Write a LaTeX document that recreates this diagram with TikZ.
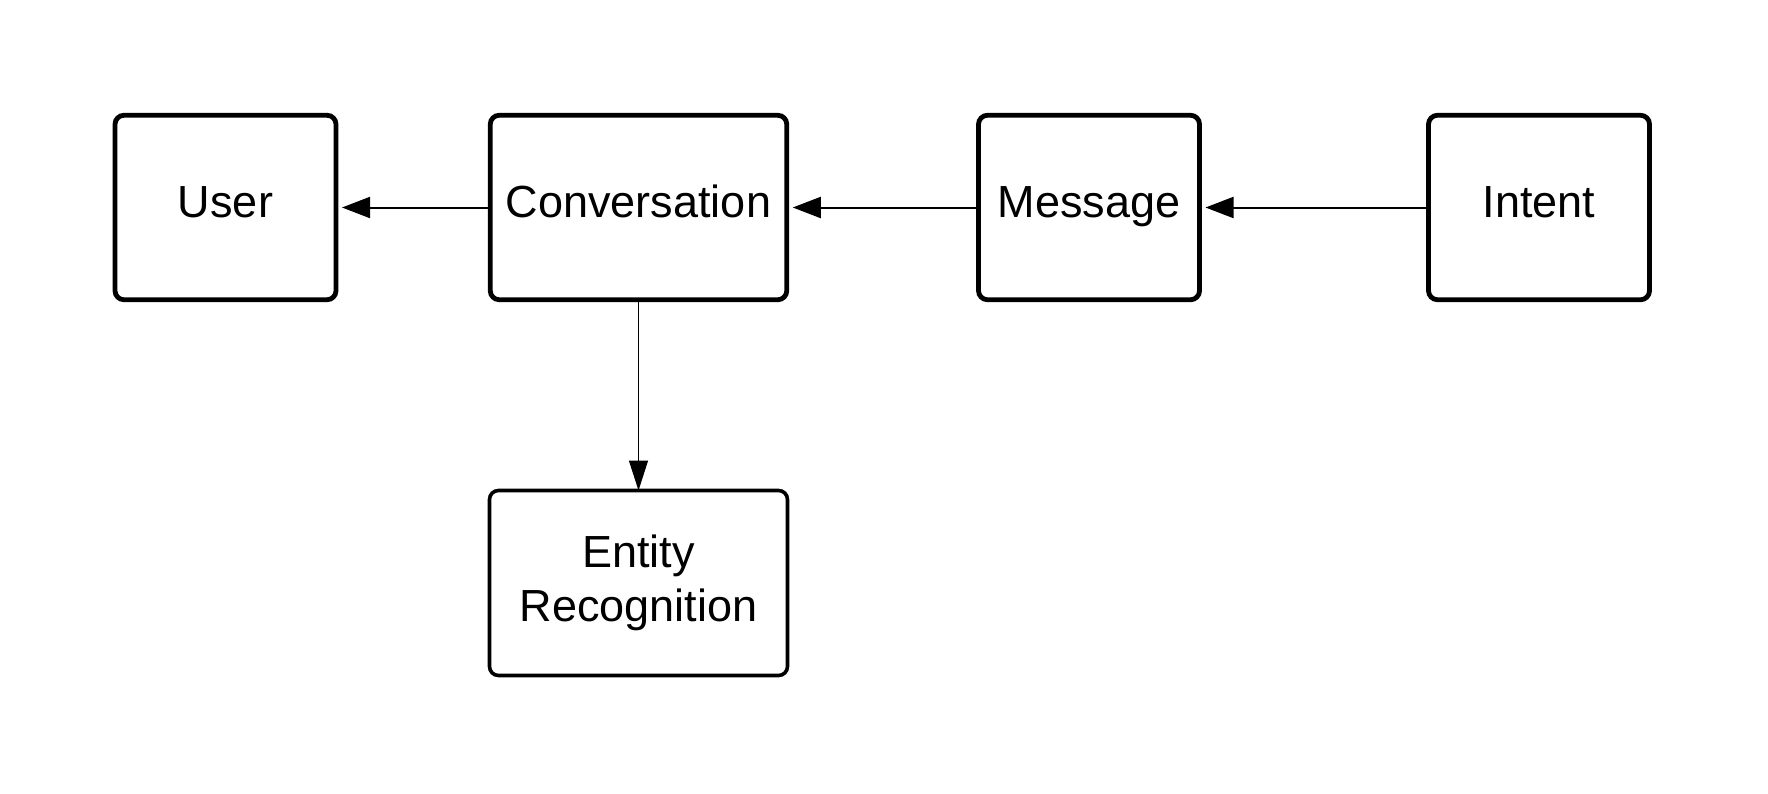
\documentclass[tikz,border=0pt]{standalone}
\usepackage{fontspec}
\setmainfont{Liberation Sans}
\usetikzlibrary{arrows.meta}
\begin{document}
\begin{tikzpicture}[x=0.5pt,y=-0.5pt,
  box/.style={draw=black, line width=2.4pt, rounded corners=4.5pt, fill=white,
    minimum width=110.5pt, minimum height=92.25pt, inner sep=0pt, outer sep=0pt,
    align=center, font=\fontsize{22.5pt}{27pt}\selectfont},
  oneline/.style={text height=16pt, text depth=5.7pt},
  conn/.style={line width=1pt, -{Triangle[length=14pt,width=10.5pt]}, shorten >=3pt},
  vconn/.style={line width=0.65pt, -{Triangle[length=15pt,width=9.5pt]}}]
\useasboundingbox (0,0) rectangle (1768,793);
\node[box, oneline] (user) at (225.5,207.5) {User};
\node[box, oneline, minimum width=148.25pt] (conv) at (638.5,207.5) {Conversation};
\node[box, oneline] (msg) at (1089,207.5) {Message};
\node[box, oneline] (intent) at (1539,207.5) {Intent};
\node[box, line width=1.8pt, minimum width=149pt, minimum height=92.5pt] (entity) at (638.5,583) {Entity\\Recognition};
\draw[conn] (conv.west) -- (user.east);
\draw[conn] (msg.west) -- (conv.east);
\draw[conn] (intent.west) -- (msg.east);
\draw[vconn] (conv.south) -- (entity.north);
\end{tikzpicture}
\end{document}
